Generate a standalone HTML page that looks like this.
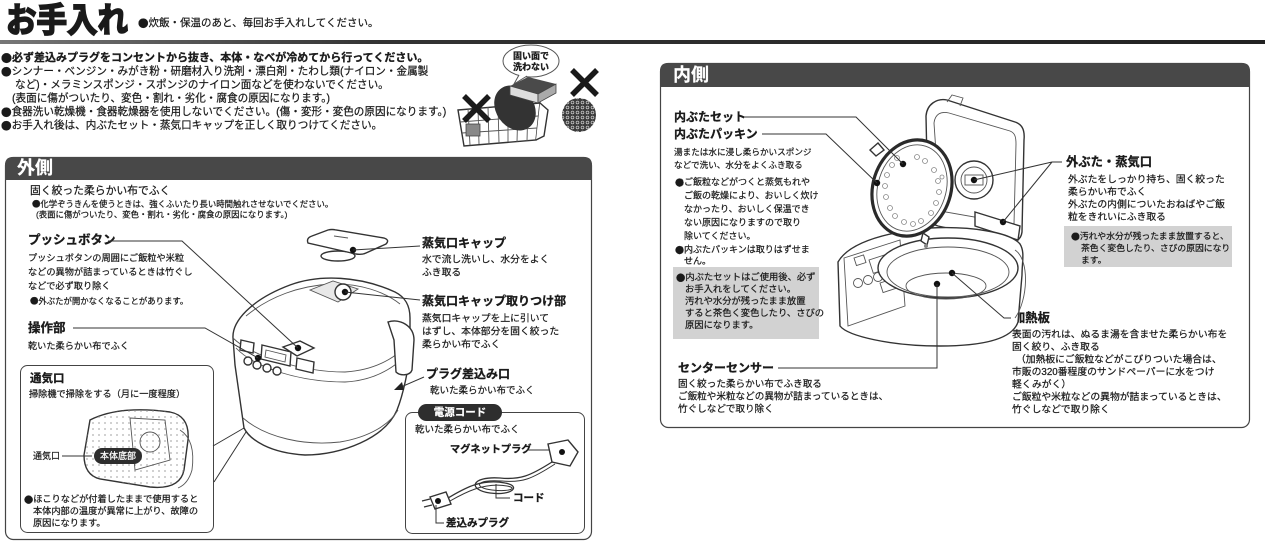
<!DOCTYPE html>
<html><head><meta charset="utf-8">
<style>
html,body{margin:0;padding:0;background:#fff;}
svg{display:block;}
text{font-family:"Liberation Sans","Noto Sans CJK JP",sans-serif;fill:#1a1a1a;dominant-baseline:central;stroke:#1a1a1a;stroke-width:.22;}
.bl{font-family:"Noto Sans CJK JP","Liberation Sans",sans-serif;}
.b{font-weight:bold;stroke-width:.3;}
.wt{fill:#fff;stroke:#fff;stroke-width:.2;}
.ln{stroke:#333;stroke-width:1;fill:none;}
.dr{stroke:#333;stroke-width:1.4;fill:#fff;}
.th{stroke:#555;stroke-width:.9;fill:none;}
</style></head><body>
<svg width="1265" height="546" viewBox="0 0 1265 546" xmlns="http://www.w3.org/2000/svg">
<defs>
<linearGradient id="g1" x1="0" x2="1" y1="0" y2="0"><stop offset="0" stop-color="#777"/><stop offset=".3" stop-color="#333"/><stop offset="1" stop-color="#222"/></linearGradient>
<pattern id="dots" width="6" height="6" patternUnits="userSpaceOnUse"><circle cx="3" cy="3" r="1" fill="#999"/></pattern>
<pattern id="wool" width="5" height="5" patternUnits="userSpaceOnUse"><rect width="5" height="5" fill="#3a3a3a"/><circle cx="2.5" cy="2.5" r="1.4" fill="none" stroke="#ccc" stroke-width=".7"/></pattern>
</defs>

<!-- Title -->
<text x="6" y="21" font-size="34" class="b" style="stroke-width:1.8" textLength="122" lengthAdjust="spacingAndGlyphs">お手入れ</text>
<text x="138" y="23" font-size="10.5"><tspan class="bl">●</tspan>炊飯・保温のあと、毎回お手入れしてください。</text>
<rect x="0" y="40" width="1265" height="4" fill="url(#g1)"/>

<!-- top bullets -->
<text x="1" y="58" font-size="11" class="b"><tspan class="bl">●</tspan>必ず差込みプラグをコンセントから抜き、本体・なべが冷めてから行ってください。</text>
<text x="1" y="71.5" font-size="10.6"><tspan class="bl">●</tspan>シンナー・ベンジン・みがき粉・研磨材入り洗剤・漂白剤・たわし類(ナイロン・金属製</text>
<text x="15" y="85" font-size="10.6">など)・メラミンスポンジ・スポンジのナイロン面などを使わないでください。</text>
<text x="12" y="98.5" font-size="10.6">(表面に傷がついたり、変色・割れ・劣化・腐食の原因になります。)</text>
<text x="1" y="112" font-size="10.6"><tspan class="bl">●</tspan>食器洗い乾燥機・食器乾燥器を使用しないでください。(傷・変形・変色の原因になります。)</text>
<text x="1" y="125.5" font-size="10.6"><tspan class="bl">●</tspan>お手入れ後は、内ぶたセット・蒸気口キャップを正しく取りつけてください。</text>

<!-- basket illustration -->
<g>
<path d="M458,110 L540,103 L536,140 L464,146 Z" class="dr"/>
<path d="M468,109 L470,145 M478,108 L479,144 M488,107 L489,144 M498,106 L499,143 M508,105 L508,142 M518,104 L517,142 M528,104 L527,141 M460,122 L538,116 M462,133 L537,128" class="th"/>
<path d="M540,103 L548,110 L544,136 L536,140" class="dr"/>
<ellipse cx="515" cy="108" rx="19" ry="24" transform="rotate(-35 515 108)" fill="#333"/>
<rect x="466" y="124" width="14" height="12" fill="#888" stroke="#444" stroke-width=".8"/>
<path d="M464,96 L489,121 M489,96 L464,121" stroke="#1a1a1a" stroke-width="5.5"/>
<ellipse cx="531" cy="61" rx="28" ry="16" fill="#fff" stroke="#555" stroke-width="1"/>
<path d="M519,75 L514,84 L527,76" fill="#fff" stroke="#555" stroke-width="1"/>
<text x="531" y="56" font-size="9" class="b" text-anchor="middle">固い面で</text>
<text x="531" y="67" font-size="9" class="b" text-anchor="middle">洗わない</text>
<path d="M510,86 L528,77 L556,84 L538,94 Z" fill="#4a4a4a"/>
<path d="M510,86 L538,94 L538,103 L510,95 Z" fill="#ddd" stroke="#444" stroke-width=".8"/>
<path d="M538,94 L556,84 L556,93 L538,103 Z" fill="#aaa" stroke="#444" stroke-width=".8"/>
<path d="M572,70 L597,95 M597,70 L572,95" stroke="#1a1a1a" stroke-width="5.5"/>
<circle cx="579" cy="115" r="17" fill="url(#wool)"/>
</g>

<!-- LEFT BOX -->
<rect x="5.5" y="157.5" width="586" height="382" rx="8" fill="none" stroke="#444" stroke-width="1.2"/>
<path d="M5,180 L5,165 Q5,157 13,157 L584,157 Q592,157 592,165 L592,180 Z" fill="#484848"/>
<text x="17" y="168" font-size="18" class="b wt">外側</text>

<text x="30" y="191" font-size="10.8">固く絞った柔らかい布でふく</text>
<text x="32" y="204" font-size="8.4"><tspan class="bl">●</tspan>化学ぞうきんを使うときは、強くふいたり長い時間触れさせないでください。</text>
<text x="36" y="214.5" font-size="8.4">(表面に傷がついたり、変色・割れ・劣化・腐食の原因になります。)</text>

<text x="28" y="240" font-size="12.5" class="b">プッシュボタン</text>
<text x="28" y="258" font-size="9.2">プッシュボタンの周囲にご飯粒や米粒</text>
<text x="28" y="272" font-size="9.2">などの異物が詰まっているときは竹ぐし</text>
<text x="28" y="286" font-size="9.2">などで必ず取り除く</text>
<text x="30" y="301" font-size="8.4"><tspan class="bl">●</tspan>外ぶたが開かなくなることがあります。</text>
<text x="28" y="328" font-size="12.5" class="b">操作部</text>
<text x="28" y="346" font-size="9.2">乾いた柔らかい布でふく</text>

<!-- left cooker -->
<g>
<ellipse cx="338" cy="256" rx="17" ry="5" class="dr"/>
<path d="M308,243 Q306,238 312,236 L328,230 Q332,229 336,230 L384,238 Q390,240 386,244 L366,253 Q362,255 356,254 Z" class="dr"/>
<path d="M334,236 L348,238" class="th"/>
<path d="M233,338 C232,322 250,300 290,285 C320,274 360,276 395,292 C405,297 410,305 410,318 L410,345 C410,365 403,395 397,410 C385,438 342,455 305,455 C270,453 250,440 244,428 L235,365 Z" class="dr"/>
<path d="M233,338 C250,355 300,372 345,372 C380,370 405,352 410,338" class="th"/>
<path d="M236,348 C255,368 300,382 345,382 C380,380 402,362 409,350" class="th"/>
<path d="M243,418 C266,438 305,446 340,442 C370,437 390,424 398,410" class="th"/>
<path d="M246,316 C270,296 300,286 330,284 C360,283 385,292 400,304" class="th"/>
<path d="M310,290 L333,281 L358,289 L338,302 Z" fill="#e8e8e8" stroke="#555" stroke-width=".9"/>
<circle cx="343" cy="292" r="8" class="dr"/>
<path d="M283,347 L300,341 L314,348 L297,356 Z" class="dr"/>
<path d="M262,345 L291,352 L290,366 L261,359 Z" class="dr"/>
<path d="M266,350 L286,355 L285,362 L265,357 Z" class="th"/>
<path d="M241,340 L254,343 L253,353 L240,350 Z" class="dr"/>
<circle cx="248" cy="361" r="4" class="dr"/><circle cx="257" cy="365" r="4" class="dr"/><circle cx="267" cy="368" r="4" class="dr"/><circle cx="277" cy="371" r="4" class="dr"/>
<path d="M297,358 L314,362 L313,373 L296,369 Z" class="dr"/>
<path d="M388,322 C400,318 414,326 414,340 L412,370 C410,376 400,376 396,372 L394,340 Z" class="dr"/>
<circle cx="353" cy="250" r="3.2" fill="#111"/>
<circle cx="345" cy="292" r="3.2" fill="#111"/>
<circle cx="298" cy="348" r="3.2" fill="#111"/>
<circle cx="258" cy="358" r="3.2" fill="#111"/>
</g>
<path d="M108,241 L182,241 L298,348" class="ln"/>
<path d="M73,328 L205,328 L258,358" class="ln"/>
<path d="M353,250 L420,246" class="ln"/>
<path d="M345,292 L420,300" class="ln"/>
<path d="M424,377 L401,387" class="ln"/>
<path d="M394,390 L402,382 L404,390 Z" fill="#222"/>

<text x="422" y="243" font-size="12" class="b">蒸気口キャップ</text>
<text x="422" y="260" font-size="9.8">水で流し洗いし、水分をよく</text>
<text x="422" y="273" font-size="9.8">ふき取る</text>
<text x="422" y="301" font-size="12" class="b">蒸気口キャップ取りつけ部</text>
<text x="422" y="319" font-size="9.8">蒸気口キャップを上に引いて</text>
<text x="422" y="332" font-size="9.8">はずし、本体部分を固く絞った</text>
<text x="422" y="345" font-size="9.8">柔らかい布でふく</text>
<text x="426" y="374" font-size="12" class="b">プラグ差込み口</text>
<text x="430" y="391" font-size="9.5">乾いた柔らかい布でふく</text>

<!-- inner vent box -->
<rect x="20.5" y="365.5" width="193" height="167" rx="7" fill="#fff" stroke="#444" stroke-width="1"/>
<path d="M244,428 L213,446 M246,432 L214,482" class="ln"/>
<text x="30" y="379" font-size="11.5" class="b">通気口</text>
<text x="29" y="394" font-size="9.2">掃除機で掃除をする（月に一度程度）</text>
<path d="M90,420 Q120,405 170,412 Q190,416 188,440 L184,470 Q180,490 150,487 L100,479 Q84,475 84,455 Z" class="dr"/>
<path d="M90,420 Q120,405 170,412 Q190,416 188,440 L184,470 Q180,490 150,487 L100,479 Q84,475 84,455 Z" fill="url(#dots)" opacity=".6"/>
<path d="M130,418 L165,420 L170,460 L135,470 Z" class="th"/>
<circle cx="150" cy="442" r="10" class="th"/>
<path d="M180,430 Q196,440 192,470 Q188,484 178,488" class="th"/>
<text x="33" y="456" font-size="9">通気口</text>
<path d="M62,456 L92,456" class="ln"/>
<rect x="94" y="448" width="48" height="16" rx="8" fill="#2e2e2e"/>
<text x="118" y="456" font-size="9" text-anchor="middle" class="wt">本体底部</text>
<text x="24" y="499" font-size="9.2"><tspan class="bl">●</tspan>ほこりなどが付着したままで使用すると</text>
<text x="33" y="511" font-size="9.2">本体内部の温度が異常に上がり、故障の</text>
<text x="33" y="523" font-size="9.2">原因になります。</text>

<!-- power cord box -->
<rect x="405.5" y="412.5" width="179" height="121" rx="7" fill="#fff" stroke="#444" stroke-width="1"/>
<rect x="418" y="404" width="84" height="17" rx="8.5" fill="#2e2e2e"/>
<text x="460" y="412.5" font-size="10.5" text-anchor="middle" class="b wt">電源コード</text>
<text x="415" y="430" font-size="9.5">乾いた柔らかい布でふく</text>
<text x="450" y="450" font-size="10.2" class="b">マグネットプラグ</text>
<path d="M527,450 L550,450" class="ln"/>
<path d="M548,444 L568,440 L578,452 L570,466 L552,462 Z" class="dr"/>
<circle cx="562" cy="452" r="3" fill="#111"/>
<path d="M552,462 C530,476 520,480 500,478 C470,476 468,490 490,493 C512,496 522,486 505,483 C480,478 462,490 448,498" fill="none" stroke="#333" stroke-width="1.3"/>
<path d="M555,464 C532,479 522,483 502,481 C474,479 474,488 492,490 C510,492 518,488 507,486 C484,482 464,493 450,501" fill="none" stroke="#333" stroke-width="1"/>
<path d="M430,497 L446,492 L451,504 L435,509 Z" class="dr"/>
<path d="M430,499 L422,501 M432,505 L424,507" stroke="#333" stroke-width="1.2"/>
<circle cx="438" cy="501" r="3" fill="#111"/>
<path d="M496,484 L496,498 L510,498" class="ln"/>
<text x="513" y="498" font-size="10.5" class="b">コード</text>
<path d="M436,505 L436,523 L444,523" class="ln"/>
<text x="446" y="523" font-size="10.5" class="b">差込みプラグ</text>

<!-- RIGHT BOX -->
<rect x="660.5" y="63.5" width="589" height="364" rx="8" fill="none" stroke="#444" stroke-width="1.2"/>
<path d="M660,87 L660,71 Q660,63 668,63 L1242,63 Q1250,63 1250,71 L1250,87 Z" fill="#484848"/>
<text x="673" y="75" font-size="18" class="b wt">内側</text>

<text x="674" y="117" font-size="12" class="b">内ぶたセット</text>
<text x="674" y="134" font-size="12" class="b">内ぶたパッキン</text>
<text x="674" y="152" font-size="8.6">湯または水に浸し柔らかいスポンジ</text>
<text x="674" y="165" font-size="8.6">などで洗い、水分をよくふき取る</text>
<text x="675" y="182" font-size="9"><tspan class="bl">●</tspan>ご飯粒などがつくと蒸気もれや</text>
<text x="684" y="195.5" font-size="9">ご飯の乾燥により、おいしく炊け</text>
<text x="684" y="209" font-size="9">なかったり、おいしく保温でき</text>
<text x="684" y="222.5" font-size="9">ない原因になりますので取り</text>
<text x="684" y="236" font-size="9">除いてください。</text>
<text x="675" y="249.5" font-size="9"><tspan class="bl">●</tspan>内ぶたパッキンは取りはずせま</text>
<text x="684" y="261" font-size="9">せん。</text>
<rect x="673" y="267" width="146" height="72" fill="#d2d2d2"/>
<text x="676" y="277" font-size="9.3"><tspan class="bl">●</tspan>内ぶたセットはご使用後、必ず</text>
<text x="685" y="289" font-size="9.3">お手入れをしてください。</text>
<text x="685" y="301" font-size="9.3">汚れや水分が残ったまま放置</text>
<text x="685" y="313" font-size="9.3">すると茶色く変色したり、さびの</text>
<text x="685" y="325" font-size="9.3">原因になります。</text>

<text x="678" y="368" font-size="12" class="b">センターセンサー</text>
<text x="678" y="384.5" font-size="9.6">固く絞った柔らかい布でふき取る</text>
<text x="678" y="397" font-size="9.6">ご飯粒や米粒などの異物が詰まっているときは、</text>
<text x="678" y="409.5" font-size="9.6">竹ぐしなどで取り除く</text>

<text x="1066" y="162" font-size="12.3" class="b">外ぶた・蒸気口</text>
<text x="1068" y="180" font-size="9.8">外ぶたをしっかり持ち、固く絞った</text>
<text x="1068" y="192.5" font-size="9.8">柔らかい布でふく</text>
<text x="1068" y="205" font-size="9.8">外ぶたの内側についたおねばやご飯</text>
<text x="1068" y="217.5" font-size="9.8">粒をきれいにふき取る</text>
<rect x="1064" y="226" width="168" height="41" fill="#d2d2d2"/>
<text x="1071" y="236" font-size="8.8"><tspan class="bl">●</tspan>汚れや水分が残ったまま放置すると、</text>
<text x="1081" y="248" font-size="8.8">茶色く変色したり、さびの原因になり</text>
<text x="1081" y="260" font-size="8.8">ます。</text>

<text x="1013" y="318" font-size="12.3" class="b">加熱板</text>
<text x="1012" y="335" font-size="9.8">表面の汚れは、ぬるま湯を含ませた柔らかい布を</text>
<text x="1012" y="347.5" font-size="9.8">固く絞り、ふき取る</text>
<text x="1016" y="360" font-size="9.8">（加熱板にご飯粒などがこびりついた場合は、</text>
<text x="1012" y="372.5" font-size="9.8">市販の320番程度のサンドペーパーに水をつけ</text>
<text x="1012" y="385" font-size="9.8">軽くみがく）</text>
<text x="1012" y="397.5" font-size="9.8">ご飯粒や米粒などの異物が詰まっているときは、</text>
<text x="1012" y="410" font-size="9.8">竹ぐしなどで取り除く</text>

<!-- right cooker -->
<g>
<path d="M926,116 C927,104 937,98 947,100 L1015,122 C1022,124 1025,130 1024,140 L1022,232 C1021,240 1015,243 1008,241 L938,226 C931,224 928,218 928,210 Z" class="dr"/>
<path d="M934,123 C935,114 941,111 949,113 L1010,131 C1015,133 1016,137 1016,144 L1014,224 L940,211 Z" class="th"/>
<circle cx="974" cy="180" r="19" class="dr"/>
<circle cx="974" cy="180" r="13" class="th"/>
<rect x="965" y="175" width="18" height="10" class="th"/>
<path d="M975,212 L1020,226 L1018,240 L975,226 Z" class="dr"/>
<path d="M947,102 L952,95 L963,98 L960,106" class="th"/>
<path d="M838,262 C846,248 868,238 900,232 L930,228 C970,226 1010,232 1020,244 C1025,252 1022,262 1022,275 L1018,322 C1012,340 980,346 940,346 C890,346 848,336 840,326 Z" class="dr"/>
<path d="M844,258 L900,240 L905,306 L848,326 Z" class="th"/>
<rect x="854" y="258" width="10" height="8" class="th" transform="rotate(-18 854 258)"/>
<rect x="869" y="260" width="20" height="14" class="th" transform="rotate(-18 869 260)"/>
<circle cx="858" cy="283" r="4.5" class="th"/><circle cx="868" cy="280" r="4.5" class="th"/><circle cx="878" cy="277" r="4.5" class="th"/><circle cx="888" cy="274" r="4.5" class="th"/>
<rect x="880" y="283" width="15" height="10" class="th" transform="rotate(-18 880 283)"/>
<ellipse cx="948" cy="268" rx="70" ry="30" class="dr"/>
<ellipse cx="948" cy="272" rx="61" ry="25" class="th"/>
<ellipse cx="946" cy="286" rx="40" ry="13" class="th"/>
<path d="M1015,250 C1030,260 1028,300 1015,318" class="th"/>
<ellipse cx="912" cy="188" rx="39" ry="49" transform="rotate(18 912 188)" fill="#fff" stroke="#2a2a2a" stroke-width="3.2"/>
<ellipse cx="912" cy="188" rx="34" ry="44" transform="rotate(18 912 188)" class="th"/>
<g fill="none" stroke="#888" stroke-width=".8">
<circle cx="892" cy="165" r="2.5"/><circle cx="887" cy="175" r="2.5"/><circle cx="885" cy="186" r="2.5"/><circle cx="886" cy="197" r="2.5"/><circle cx="890" cy="208" r="2.5"/>
<circle cx="934" cy="170" r="2.5"/><circle cx="938" cy="181" r="2.5"/><circle cx="939" cy="192" r="2.5"/><circle cx="936" cy="203" r="2.5"/><circle cx="931" cy="213" r="2.5"/>
<circle cx="904" cy="222" r="2.5"/><circle cx="913" cy="224" r="2.5"/><circle cx="921" cy="221" r="2.5"/><circle cx="917" cy="157" r="2.5"/><circle cx="925" cy="161" r="2.5"/>
<circle cx="897" cy="158" r="2.5"/><circle cx="942" cy="177" r="2"/><circle cx="895" cy="216" r="2.5"/>
</g>
<path d="M870,150 L878,143 L884,150 L876,156 Z" class="dr"/>
<path d="M923,233 L929,237 L927,245 L921,241 Z" class="dr"/>
<circle cx="903" cy="164" r="3.2" fill="#111"/>
<circle cx="877" cy="183" r="3.2" fill="#111"/>
<circle cx="974" cy="180" r="3.2" fill="#111"/>
<circle cx="1003" cy="222" r="3.2" fill="#111"/>
<circle cx="937" cy="284" r="3.2" fill="#111"/>
<circle cx="952" cy="273" r="3.2" fill="#111"/>
<circle cx="926" cy="246" r="2" fill="#888"/>
</g>
<path d="M744,117 L856,117 L903,164" class="ln"/>
<path d="M762,134 L826,134 L877,183" class="ln"/>
<path d="M1062,162 L1052,162 L974,180 M1052,162 L1003,222" class="ln"/>
<path d="M778,368 L937,368 L937,284" class="ln"/>
<path d="M952,273 L1004,318 L1011,318" class="ln"/>
</svg>
</body></html>
